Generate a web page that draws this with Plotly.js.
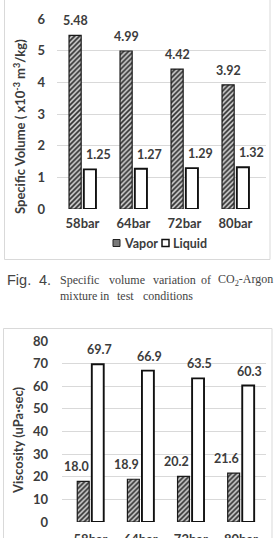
<!DOCTYPE html>
<html>
<head>
<meta charset="utf-8">
<script src="https://cdn.plot.ly/plotly-3.0.1.min.js"></script>
<style>
  html, body { margin: 0; padding: 0; background: #ffffff; overflow: hidden; }
  #fig { width: 274px; height: 560px; }
</style>
</head>
<body>
<div id="fig"></div>
<script>
// Test conditions (pressure levels)
const categories = ['58bar', '64bar', '72bar', '80bar'];

// Specific volume, x10^-3 m3/kg
const volumeVapor = [5.48, 4.99, 4.42, 3.92];
const volumeLiquid = [1.25, 1.27, 1.29, 1.32];

// Viscosity, uPa·sec
const viscosityVapor = [18.0, 18.9, 20.2, 21.6];
const viscosityLiquid = [69.7, 66.9, 63.5, 60.3];

// Axis tick values
const volumeTicks = [0, 1, 2, 3, 4, 5, 6];
const viscosityTicks = [0, 10, 20, 30, 40, 50, 60, 70, 80];

// Figure size in pixels; helpers convert pixel positions to paper coordinates
const W = 274, H = 560;
const px = v => v / W;
const py = v => 1 - v / H;

const FONT = 'Lato, "Open Sans", sans-serif';
const INK = '#3c3c3c';

const hatch = {
  type: 'bar',
  marker: {
    color: '#ffffff',
    line: { color: '#1a1a1a', width: 1.2 },
    pattern: { shape: '/', fgcolor: '#2e2e2e', bgcolor: '#d4d4d4', size: 3.5, solidity: 0.5 }
  },
  hoverinfo: 'skip'
};
const hollow = {
  type: 'bar',
  marker: { color: '#ffffff', line: { color: '#111111', width: 1.9 } },
  hoverinfo: 'skip'
};

const traces = [
  Object.assign({}, hatch, { name: 'Vapor', x: categories, y: volumeVapor, xaxis: 'x', yaxis: 'y' }),
  Object.assign({}, hollow, { name: 'Liquid', x: categories, y: volumeLiquid, xaxis: 'x', yaxis: 'y' }),
  Object.assign({}, hatch, { name: 'Vapor', x: categories, y: viscosityVapor, xaxis: 'x2', yaxis: 'y2' }),
  Object.assign({}, hollow, { name: 'Liquid', x: categories, y: viscosityLiquid, xaxis: 'x2', yaxis: 'y2' })
];

const tickFont = { family: FONT, size: 13, color: INK, weight: 700 };
const labelFont = { family: FONT, size: 12.5, color: INK, weight: 700 };

function valueLabels(values, digits, xref, yref, xshift) {
  return values.map((v, i) => ({
    x: categories[i], y: v, xref: xref, yref: yref,
    text: v.toFixed(digits), showarrow: false,
    xanchor: 'center', yanchor: 'bottom', xshift: xshift, yshift: 5,
    font: labelFont
  }));
}

function paperText(text, x, y, font, extra) {
  return Object.assign({
    text: text, x: px(x), y: py(y), xref: 'paper', yref: 'paper',
    showarrow: false, xanchor: 'left', yanchor: 'middle', font: font
  }, extra || {});
}

const serif = { family: '"Liberation Serif", "Times New Roman", serif', size: 12, color: '#444444' };
const figFont = { family: '"Liberation Sans", Arial, sans-serif', size: 14.5, color: '#444444' };
const titleFont = { family: FONT, size: 13, color: INK, weight: 700 };
const legendFont = { family: FONT, size: 12.5, color: INK, weight: 700 };

const annotations = [].concat(
  valueLabels(volumeVapor, 2, 'x', 'y', -7),
  valueLabels(volumeLiquid, 2, 'x', 'y', 16),
  valueLabels(viscosityVapor, 1, 'x2', 'y2', -14),
  valueLabels(viscosityLiquid, 1, 'x2', 'y2', 8.5),
  [
    // y-axis titles
    paperText('<b>Specific Volume ( x10<sup>-3</sup> m<sup>3</sup>/kg)</b>', 20, 127, titleFont,
      { xanchor: 'center', textangle: -90 }),
    paperText('<b>Viscosity (uPa·sec)</b>', 18, 441, titleFont,
      { xanchor: 'center', textangle: -90 }),
    // legend texts
    paperText('Vapor', 122, 243, legendFont),
    paperText('Liquid', 171, 243, legendFont),
    // figure caption
    paperText('Fig.', 5, 280, figFont),
    paperText('4.', 37, 280, figFont),
    paperText('Specific', 58, 280, serif),
    paperText('volume', 107, 280, serif),
    paperText('variation', 151, 280, serif),
    paperText('of', 199, 280, serif),
    paperText('CO<sub>2</sub>-Argon', 216, 280, serif),
    paperText('mixture', 58, 296, serif),
    paperText('in', 98, 296, serif),
    paperText('test', 115, 296, serif),
    paperText('conditions', 141, 296, serif)
  ]
);

const shapes = [
  // chart frames
  { type: 'rect', xref: 'paper', yref: 'paper', x0: px(4.5), x1: px(270), y0: py(259.5), y1: py(-10),
    line: { color: '#d9d9d9', width: 1 }, fillcolor: 'rgba(0,0,0,0)' },
  { type: 'rect', xref: 'paper', yref: 'paper', x0: px(3.5), x1: px(272), y0: py(600), y1: py(328.5),
    line: { color: '#d9d9d9', width: 1 }, fillcolor: 'rgba(0,0,0,0)' },
  // legend swatches
  { type: 'rect', xref: 'paper', yref: 'paper', x0: px(113), x1: px(120), y0: py(246.5), y1: py(239.5),
    line: { color: '#222222', width: 1 }, fillcolor: '#7a7a7a' },
  { type: 'rect', xref: 'paper', yref: 'paper', x0: px(162), x1: px(169), y0: py(246.5), y1: py(239.5),
    line: { color: '#111111', width: 1.5 }, fillcolor: '#ffffff' }
];

const gridGray = '#d9d9d9';

const layout = {
  width: W, height: H,
  margin: { l: 0, r: 0, t: 0, b: 0, pad: 0 },
  paper_bgcolor: '#ffffff', plot_bgcolor: '#ffffff',
  showlegend: false,
  barmode: 'group', bargap: 0.42, bargroupgap: 0.18,
  xaxis: {
    domain: [px(57), px(266)], anchor: 'y', type: 'category',
    showgrid: false, showline: false, zeroline: false, ticks: '',
    tickfont: tickFont, ticklabelstandoff: 5
  },
  yaxis: {
    domain: [py(209), py(19)], anchor: 'x', range: [0, 6],
    tickvals: volumeTicks, showgrid: true, gridcolor: gridGray, gridwidth: 1,
    zeroline: false, showline: false, ticks: '',
    tickfont: tickFont, ticklabelstandoff: 11
  },
  xaxis2: {
    domain: [px(62), px(266)], anchor: 'y2', type: 'category',
    showgrid: false, showline: false, zeroline: false, ticks: '',
    tickfont: tickFont, ticklabelstandoff: 8
  },
  yaxis2: {
    domain: [py(522), py(341)], anchor: 'x2', range: [0, 80],
    tickvals: viscosityTicks, showgrid: true, gridcolor: gridGray, gridwidth: 1,
    zeroline: false, showline: false, ticks: '',
    tickfont: tickFont, ticklabelstandoff: 13
  },
  annotations: annotations,
  shapes: shapes
};

Plotly.newPlot('fig', traces, layout, { staticPlot: true, displayModeBar: false });
</script>
</body>
</html>
